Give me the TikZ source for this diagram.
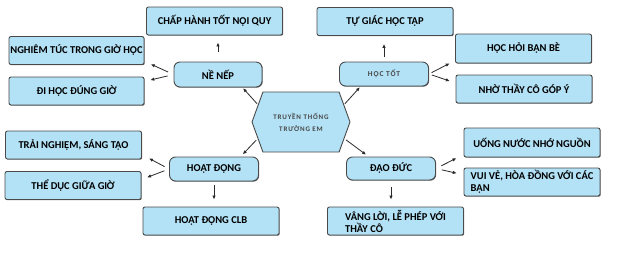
\documentclass[tikz,border=0pt]{standalone}
\usepackage{fontspec}
\setmainfont{Carlito}
\newfontfamily\spacedfont{Carlito}[LetterSpace=12, UprightFont=* Bold, BoldFont=* Bold]
\usetikzlibrary{arrows.meta,shapes.symbols,shadows}
\definecolor{boxBlue}{HTML}{B3E1F5}
\definecolor{boxEdge}{HTML}{4A4A4A}
\definecolor{arrGray}{HTML}{2A2A2A}

\begin{document}
\begin{tikzpicture}[x=1pt,y=-1pt,
          leaf/.style={rectangle, rounded corners=2pt, draw=boxEdge, line width=0.9pt, fill=boxBlue,
                    drop shadow={shadow xshift=0.7pt,shadow yshift=-0.7pt,fill=black!60,opacity=1},
                    font=\fontsize{10.5}{12}\selectfont\bfseries, minimum width=136pt,
                    minimum height=28pt, inner sep=1pt},
          mid/.style={leaf, rounded corners=6pt, minimum width=89pt, minimum height=24pt},
          faint/.style={font=\spacedfont\fontsize{7.5}{12}\selectfont, text=black!72},
          arr/.style={-{Latex[length=4pt,width=3.5pt]}, arrGray, line width=0.8pt},
          every node/.style={align=center}]
        \useasboundingbox (0,0) rectangle (620,260);

        % centre
        \node[signal, signal to=west and east, signal pointer angle=140, draw=boxEdge,
              line width=0.9pt, fill=boxBlue, minimum width=98pt, minimum height=60pt,
              inner sep=0pt, faint, font=\spacedfont\fontsize{7}{12}\selectfont]
              (hex) at (301,122) {TRUYỀN THỐNG\\TRƯỜNG EM};

        % ne nep
        \node[leaf] (chn) at (214.5,21) {CHẤP HÀNH TỐT NỘI QUY};
        \node[leaf, minimum width=135pt] (ntg) at (76.5,50.5) {NGHIÊM TÚC TRONG GIỜ HỌC};
        \node[leaf, minimum width=135pt] (dhg) at (76.5,91) {ĐI HỌC ĐÚNG GIỜ};
        \node[mid, minimum width=88pt, minimum height=25pt] (nn) at (218,74.5) {NỀ NẾP};

        % hoc tot
        \node[leaf] (tg) at (385,21.5) {TỰ GIÁC HỌC TẬP};
        \node[leaf, minimum height=29pt] (hh) at (523.5,48.5) {HỌC HỎI BẠN BÈ};
        \node[leaf] (nt) at (524,89) {NHỜ THẦY CÔ GÓP Ý};
        \node[mid, faint] (ht) at (384,74) {HỌC TỐT};

        % hoat dong
        \node[leaf] (tn) at (73.5,145) {TRẢI NGHIỆM, SÁNG TẠO};
        \node[leaf] (td) at (73,185.5) {THỂ DỤC GIỮA GIỜ};
        \node[mid] (hd) at (214,169) {HOẠT ĐỘNG};
        \node[leaf] (clb) at (211,221) {HOẠT ĐỘNG CLB};

        % dao duc
        \node[mid, minimum height=23pt] (dd) at (391,168.5) {ĐẠO ĐỨC};
        \node[leaf, minimum height=29pt] (un) at (532,142.5) {UỐNG NƯỚC NHỚ NGUỒN};
        \node[leaf, align=left] (vv) at (532,182) {VUI VẺ, HÒA ĐỒNG VỚI CÁC\\BẠN};
        \node[leaf, align=left] (vl) at (395.5,221) {VÂNG LỜI, LỄ PHÉP VỚI\\THẦY CÔ};

        \draw[arr, shorten <=10pt, shorten >=7pt] (nn.north) -- (nn.north |- chn.south);
        \draw[arr, shorten <=6pt, shorten >=7pt] (nn.west) -- (ntg.-9);
        \draw[arr, shorten <=6pt, shorten >=6pt] (nn.west) -- (dhg.8);
        \draw[arr, shorten <=1pt, shorten >=1pt] (hex.158) -- (nn.-28);

        \draw[arr, shorten <=5pt, shorten >=8pt] (ht.north) -- (ht.north |- tg.south);
        \draw[arr, shorten <=3pt, shorten >=6pt] (ht.east) -- (hh.190);
        \draw[arr, shorten <=3pt, shorten >=6pt] (ht.east) -- (nt.175);
        \draw[arr, shorten <=1pt, shorten >=1pt] (hex.22) -- (ht.208);

        \draw[arr, shorten <=4pt, shorten >=7pt] (hd.south) -- (hd.south |- clb.north);
        \draw[arr, shorten <=5pt, shorten >=8pt] (hd.west) -- (tn.-8);
        \draw[arr, shorten <=5pt, shorten >=6pt] (hd.west) -- (td.5);
        \draw[arr, shorten <=2pt, shorten >=3pt] (hex.201) -- (hd.25);

        \draw[arr, shorten <=7pt, shorten >=7pt] (dd.south) -- (dd.south |- vl.north);
        \draw[arr, shorten <=6pt, shorten >=8pt] (dd.east) -- (un.190);
        \draw[arr, shorten <=6pt, shorten >=7pt] (dd.east) -- (vv.174);
        \draw[arr, shorten <=2pt, shorten >=3pt] (hex.-21) -- (dd.152);
      \end{tikzpicture}
\end{document}
